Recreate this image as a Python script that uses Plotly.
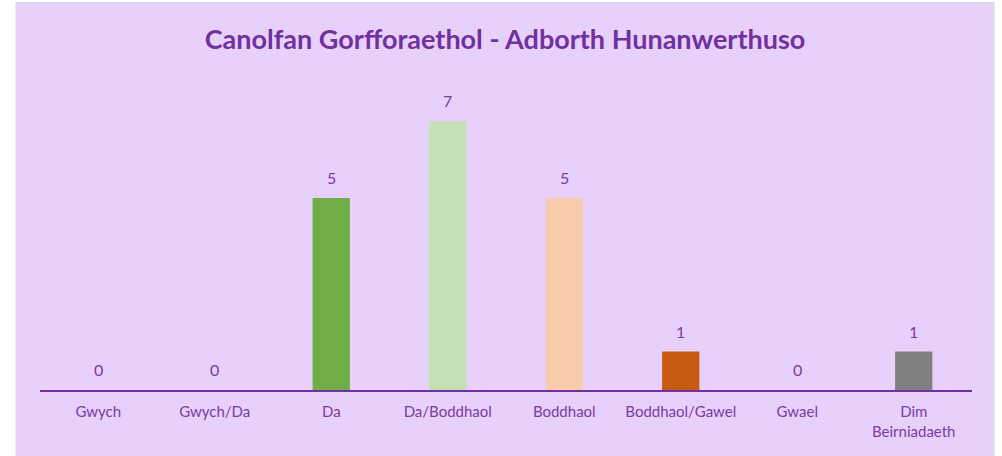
import plotly.graph_objects as go

categories = ["Gwych", "Gwych/Da", "Da", "Da/Boddhaol", "Boddhaol",
              "Boddhaol/Gawel", "Gwael", "Dim<br>Beirniadaeth"]
values = [0, 0, 5, 7, 5, 1, 0, 1]
bar_colors = ["#4472C4", "#A9D18E", "#70AD47", "#C5E0B4", "#F8CBAD",
              "#C55A11", "#7F7F7F", "#808080"]

PURPLE = "#7030A0"
LABEL = "#7A3AA8"
BG = "#E8D0FD"

fig = go.Figure()
fig.add_trace(go.Bar(
    x=categories, y=values,
    marker=dict(color=bar_colors, line=dict(width=0)),
    width=0.32, hoverinfo="skip",
))

annotations = []
for c, v in zip(categories, values):
    annotations.append(dict(
        x=c, y=v, xref="x", yref="y", text=str(v), showarrow=False,
        yanchor="bottom", yshift=9,
        font=dict(family="Lato", size=16, color=LABEL),
    ))

fig.update_layout(
    width=1002, height=456,
    margin=dict(l=40, r=30, t=80, b=66),
    paper_bgcolor="white",
    plot_bgcolor="rgba(0,0,0,0)",
    showlegend=False,
    title=dict(
        text="<b>Canolfan Gorfforaethol - Adborth Hunanwerthuso</b>",
        x=0.504, xanchor="center", y=1 - 40 / 456, yanchor="middle",
        yref="container", xref="container",
        font=dict(family="Lato", size=27, color=PURPLE),
    ),
    xaxis=dict(
        showline=True, linecolor="#7030A0", linewidth=2,
        showgrid=False, zeroline=False, ticks="",
        ticklabelstandoff=7,
        tickfont=dict(family="Lato", size=15, color=LABEL),
        fixedrange=True,
    ),
    yaxis=dict(
        range=[0, 310 / 38.4], visible=False, showgrid=False,
        zeroline=False, fixedrange=True,
    ),
    annotations=annotations,
    shapes=[dict(
        type="rect", xref="paper", yref="paper",
        x0=(16 - 40) / 932, x1=(994 - 40) / 932,
        y0=-0.3, y1=(390 - 2.5) / 310,
        fillcolor=BG, line=dict(color="#D9D9D9", width=1), layer="below",
    )],
)

fig.write_html("out.html", config={"displayModeBar": False},
               post_script="document.body.style.margin='0';")
